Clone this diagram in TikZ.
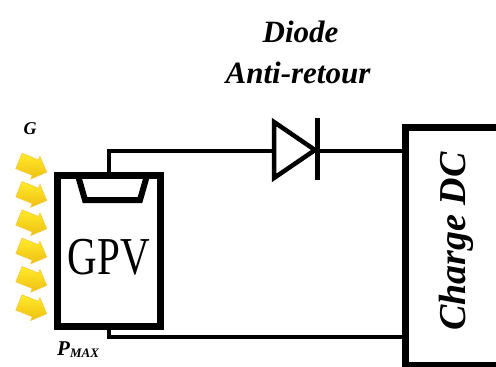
\documentclass[tikz,border=0pt]{standalone}
\usepackage{fontspec}
\setmainfont{Liberation Serif}
\usetikzlibrary{shapes.arrows}
\definecolor{sunyellow}{RGB}{255,236,40}
\definecolor{sungold}{RGB}{240,190,20}

\begin{document}
\begin{tikzpicture}[x=1pt,y=-1pt]
\useasboundingbox (0,0) rectangle (496,367);

% sun rays
\begin{scope}[every node/.style={single arrow,draw=sungold!80!white,line width=0.6pt,
              top color=sunyellow,bottom color=sungold,inner xsep=0pt,inner ysep=8pt,
              minimum height=30pt,single arrow head extend=4pt,
              single arrow head indent=0pt,rotate=-22}]
    \foreach \i in {0,...,5}
        \node (ray\i) at (29,165+28.3*\i) {};
\end{scope}

% blocks
\begin{scope}[every node/.style={draw,line width=7pt,inner sep=0pt}]
    \node[minimum width=102.5pt,minimum height=150.5pt] (gpv) at (108.75,250.75) {};
    \node[minimum width=99pt,minimum height=238pt] (charge) at (455,246) {};
\end{scope}
\draw[line width=6pt,line join=miter] (78,175.5) -- (85,200) -- (140,200) -- (147,175.5);

% diode
\coordinate (da) at (274,151);
\coordinate (dk) at (317.5,151);
\draw[line width=4.5pt,line join=miter] (274,122) -- (315,150) -- (274,178) -- cycle;
\draw[line width=4.5pt] (317.5,118) -- (317.5,180);

% wires
\begin{scope}[every path/.style={line width=4.5pt,line join=miter}]
    \draw (gpv.north) |- (da);
    \draw (dk) -- (dk -| charge.west);
    \draw (gpv.south) |- (charge.west |- 0,337);
\end{scope}

% labels
\begin{scope}[every node/.style={inner sep=0pt,font=\bfseries\itshape}]
    \node[anchor=base,font=\fontsize{31}{31}\selectfont\bfseries\itshape] (ddiode) at (300.5,42) {Diode};
    \node[anchor=base,font=\fontsize{31}{31}\selectfont\bfseries\itshape] (dretour) at (298,83) {Anti-retour};
    \node[rotate=90,font=\fontsize{38}{38}\selectfont\bfseries\itshape] (chargetxt) at (456,241.5) {Charge DC};
    \node[font=\fontsize{18}{18}\selectfont\bfseries\itshape] (gtxt) at (30,129) {G};
    \node[anchor=base west,font=\fontsize{21}{21}\selectfont\bfseries\itshape] (pmax) at (57,355)
        {P\raisebox{-0.3ex}{\fontsize{13}{13}\selectfont MAX}};
\end{scope}
\node[inner sep=0pt,yscale=1.3,font=\fontsize{41}{41}\selectfont] (gpvtxt) at (109,257.5) {GPV};

\end{tikzpicture}
\end{document}
